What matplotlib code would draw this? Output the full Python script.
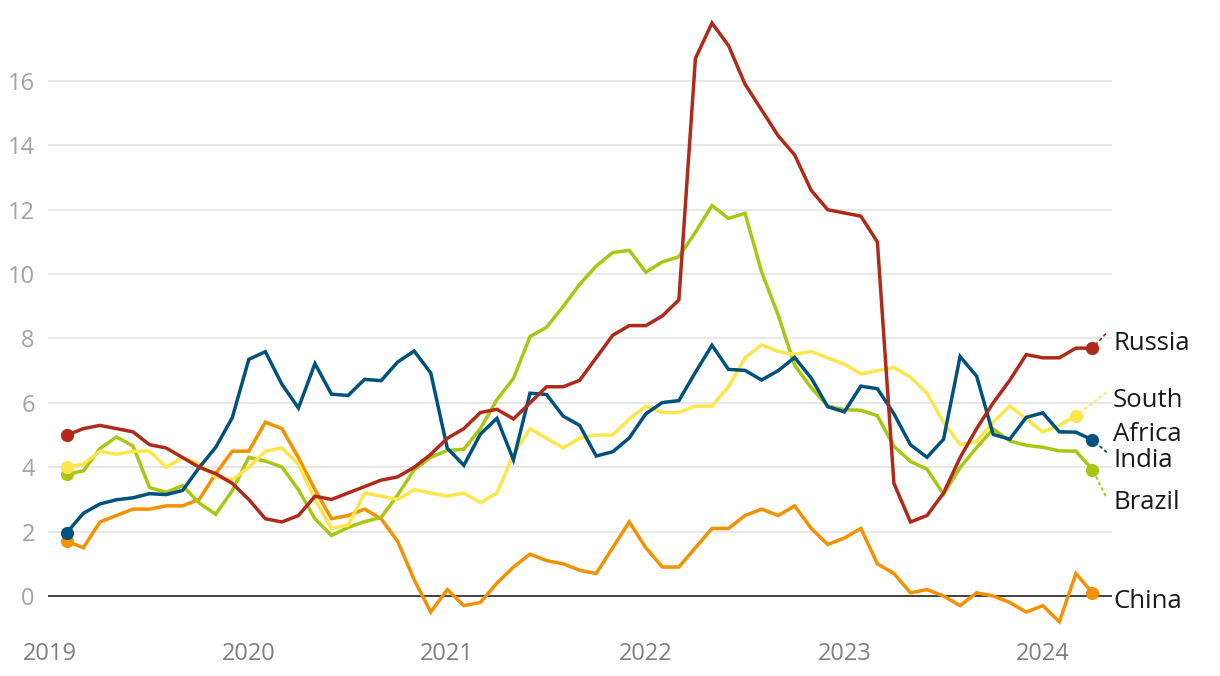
import matplotlib
matplotlib.use("Agg")
import matplotlib.pyplot as plt
import matplotlib.transforms as mtransforms
import numpy as np

plt.rcParams['font.family'] = ['Open Sans', 'DejaVu Sans']

# Monthly year-on-year inflation (%), Jan 2019 onward
russia = [5.0, 5.2, 5.3, 5.2, 5.1, 4.7, 4.6, 4.3, 4.0, 3.8, 3.5, 3.0,
          2.4, 2.3, 2.5, 3.1, 3.0, 3.2, 3.4, 3.6, 3.7, 4.0, 4.4, 4.9,
          5.2, 5.7, 5.8, 5.5, 6.0, 6.5, 6.5, 6.7, 7.4, 8.1, 8.4, 8.4,
          8.7, 9.2, 16.7, 17.8, 17.1, 15.9, 15.1, 14.3, 13.7, 12.6, 12.0, 11.9,
          11.8, 11.0, 3.5, 2.3, 2.5, 3.2, 4.3, 5.2, 6.0, 6.7, 7.5, 7.4,
          7.4, 7.7, 7.7]
south_africa = [4.0, 4.1, 4.5, 4.4, 4.5, 4.5, 4.0, 4.3, 4.1, 3.7, 3.6, 4.0,
                4.5, 4.6, 4.1, 3.0, 2.1, 2.2, 3.2, 3.1, 3.0, 3.3, 3.2, 3.1,
                3.2, 2.9, 3.2, 4.4, 5.2, 4.9, 4.6, 4.9, 5.0, 5.0, 5.5, 5.9,
                5.7, 5.7, 5.9, 5.9, 6.5, 7.4, 7.8, 7.6, 7.5, 7.6, 7.4, 7.2,
                6.9, 7.0, 7.1, 6.8, 6.3, 5.4, 4.7, 4.8, 5.4, 5.9, 5.5, 5.1,
                5.3, 5.6]
india = [1.97, 2.57, 2.86, 2.99, 3.05, 3.18, 3.15, 3.28, 3.99, 4.62, 5.54, 7.35,
         7.59, 6.58, 5.84, 7.22, 6.27, 6.23, 6.73, 6.69, 7.27, 7.61, 6.93, 4.59,
         4.06, 5.03, 5.52, 4.23, 6.30, 6.26, 5.59, 5.30, 4.35, 4.48, 4.91, 5.66,
         6.01, 6.07, 6.95, 7.79, 7.04, 7.01, 6.71, 7.00, 7.41, 6.77, 5.88, 5.72,
         6.52, 6.44, 5.66, 4.70, 4.31, 4.87, 7.44, 6.83, 5.02, 4.87, 5.55, 5.69,
         5.10, 5.09, 4.85]
brazil = [3.78, 3.89, 4.58, 4.94, 4.66, 3.37, 3.22, 3.43, 2.89, 2.54, 3.27, 4.31,
          4.19, 4.01, 3.30, 2.40, 1.88, 2.13, 2.31, 2.44, 3.14, 3.92, 4.31, 4.52,
          4.56, 5.20, 6.10, 6.76, 8.06, 8.35, 8.99, 9.68, 10.25, 10.67, 10.74, 10.06,
          10.38, 10.54, 11.30, 12.13, 11.73, 11.89, 10.07, 8.73, 7.17, 6.47, 5.90, 5.79,
          5.77, 5.60, 4.65, 4.18, 3.94, 3.16, 3.99, 4.61, 5.19, 4.82, 4.68, 4.62,
          4.51, 4.50, 3.93]
china = [1.7, 1.5, 2.3, 2.5, 2.7, 2.7, 2.8, 2.8, 3.0, 3.8, 4.5, 4.5,
         5.4, 5.2, 4.3, 3.3, 2.4, 2.5, 2.7, 2.4, 1.7, 0.5, -0.5, 0.2,
         -0.3, -0.2, 0.4, 0.9, 1.3, 1.1, 1.0, 0.8, 0.7, 1.5, 2.3, 1.5,
         0.9, 0.9, 1.5, 2.1, 2.1, 2.5, 2.7, 2.5, 2.8, 2.1, 1.6, 1.8,
         2.1, 1.0, 0.7, 0.1, 0.2, 0.0, -0.3, 0.1, 0.0, -0.2, -0.5, -0.3,
         -0.8, 0.7, 0.1]

y_ticks = [0, 2, 4, 6, 8, 10, 12, 14, 16]
x_ticks = [2019, 2020, 2021, 2022, 2023, 2024]
x_tick_labels = ["2019", "2020", "2021", "2022", "2023", "2024"]

# series: (values, colour, label lines, label baselines, leader offset px)
series = [
    (china, '#f39200', ["China"], [-0.38], None),
    (brazil, '#a9c712', ["Brazil"], [2.69], (13, -26)),
    (south_africa, '#fde64b', ["South", "Africa"], [5.87, 4.83], (30, 23)),
    (india, '#00527e', ["India"], [4.02], (14, -12)),
    (russia, '#b02a1b', ["Russia"], [7.64], (13, 14)),
]

W, H = 1220, 676
PXY = 198.5   # pixels per year
X0 = 50.3     # pixel position of 2019.0
fig = plt.figure(figsize=(W / 100, H / 100), dpi=100)
ax = fig.add_axes([48 / W, (H - 628.2) / H, (1112 - 48) / W, (628.2 - 16.6) / H])
ax.set_xlim(2019 - (X0 - 48) / PXY, 2019 + (1112 - X0) / PXY)
ax.set_ylim(-1, 18)

for s in ax.spines.values():
    s.set_visible(False)

for v in y_ticks:
    if v == 0:
        ax.axhline(0, color='#222222', lw=1.2, zorder=1)
    else:
        ax.axhline(v, color='#e6e6e6', lw=1.3, zorder=0)

ax.set_yticks(y_ticks)
ax.set_yticklabels([str(v) for v in y_ticks])
ax.set_xticks(x_ticks)
ax.set_xticklabels(x_tick_labels)
ax.tick_params(axis='y', length=0, pad=9.5, labelsize=17, labelcolor='#a3a3a3')
ax.tick_params(axis='x', length=0, pad=10, labelsize=17, labelcolor='#7f7f7f')

label_tr = mtransforms.blended_transform_factory(ax.transAxes, ax.transData)

for k, (vals, col, lab, bases, lead) in enumerate(series):
    x = 2019 + (np.arange(len(vals)) + 1) / 12.0
    ax.plot(x, vals, color=col, lw=2.5, solid_joinstyle='miter', zorder=3 + k)
    ax.plot([x[0], x[-1]], [vals[0], vals[-1]], 'o', color=col, ms=9.5,
            markeredgewidth=0, zorder=3 + k)
    if lead is not None:
        ax.annotate('', xy=(x[-1], vals[-1]), xycoords='data',
                    xytext=lead, textcoords='offset pixels',
                    arrowprops=dict(arrowstyle='-', color=col, lw=1.3,
                                    linestyle=(0, (1.2, 2.2)),
                                    shrinkA=0, shrinkB=0),
                    annotation_clip=False, zorder=2)
    for txt, b in zip(lab, bases):
        ax.text(1.001, b, txt, transform=label_tr, ha='left', va='baseline',
                fontsize=18.5, color='#1a1a1a', clip_on=False)

fig.savefig('out.png', dpi=100)
